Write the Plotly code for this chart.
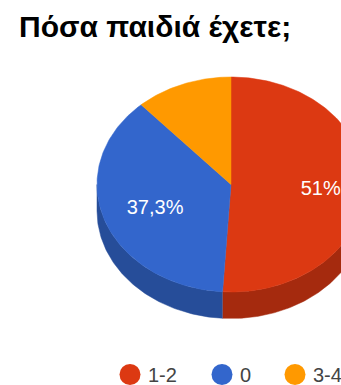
import numpy as np
import plotly.graph_objects as go

# Survey answers
title = "Πόσα παιδιά έχετε;"
categories = ["1-2", "0", "3-4"]
shares = [51.0, 37.3, 11.7]
share_labels = ["51%", "37,3%", ""]

# Slice and edge colours
top_colors = ["#DC3912", "#3366CC", "#FF9900"]
side_colors = ["#A52A0E", "#264D99", "#B36B00"]

# Tilted-pie geometry, in page pixels
CX, CY, RX, RY, DEPTH = 231.0, 184.5, 134.0, 107.5, 26.5
LABEL_RADIUS = [0.67, 0.6, 0.6]
LABEL_SHIFT = [3, 3, 0]
LEGEND_Y = 374.5
LEGEND_MARKS = [130, 222, 295]
LEGEND_TEXTS = [147, 239, 312]
FONT = "Liberation Sans, Arial, sans-serif"


def rim(a0, a1, drop=0.0):
    """Points along the ellipse between two clockwise-from-top fractions."""
    t = np.linspace(a0, a1, max(int(abs(a1 - a0) * 400), 2)) * 2 * np.pi
    return CX + RX * np.sin(t), CY - RY * np.cos(t) + drop


fig = go.Figure()
total = sum(shares)
edges = np.cumsum([0.0] + shares) / total

# Extruded wall: only the part of the rim facing the viewer (0.25 to 0.75 of a turn)
for i in range(len(shares)):
    a0, a1 = max(edges[i], 0.25), min(edges[i + 1], 0.75)
    if a1 <= a0:
        continue
    xs, ys = rim(a0, a1)
    xd, yd = rim(a1, a0, DEPTH)
    fig.add_trace(go.Scatter(
        x=np.r_[xs, xd], y=np.r_[ys, yd], mode="lines", fill="toself",
        fillcolor=side_colors[i], line=dict(color=side_colors[i], width=0.5),
        hoverinfo="skip", showlegend=False))

# Top face
for i in range(len(shares)):
    xs, ys = rim(edges[i], edges[i + 1])
    fig.add_trace(go.Scatter(
        x=np.r_[CX, xs, CX], y=np.r_[CY, ys, CY], mode="lines", fill="toself",
        fillcolor=top_colors[i], line=dict(color=top_colors[i], width=0.5),
        name=categories[i], hoverinfo="name", showlegend=False))

# Percentage labels at each slice's middle angle
for i, text in enumerate(share_labels):
    if not text:
        continue
    mid = (edges[i] + edges[i + 1]) * np.pi
    fig.add_trace(go.Scatter(
        x=[CX + RX * LABEL_RADIUS[i] * np.sin(mid)],
        y=[CY - RY * LABEL_RADIUS[i] * np.cos(mid) + LABEL_SHIFT[i]],
        mode="text", text=[text], textposition="middle center",
        textfont=dict(family=FONT, size=20, color="#FFFFFF"),
        hoverinfo="skip", showlegend=False))

# Key below the pie
for i, cat in enumerate(categories):
    fig.add_trace(go.Scatter(
        x=[LEGEND_MARKS[i]], y=[LEGEND_Y], mode="markers",
        marker=dict(size=21, color=top_colors[i], line=dict(width=0)),
        hoverinfo="skip", showlegend=False))
    fig.add_annotation(
        x=LEGEND_TEXTS[i], y=LEGEND_Y, text=cat, showarrow=False,
        xanchor="left", yanchor="middle", xshift=-1,
        font=dict(family=FONT, size=20, color="#444444"))

fig.add_annotation(
    x=18, y=26, text=f"<b>{title}</b>", showarrow=False, xanchor="left", yanchor="middle",
    xshift=-1, font=dict(family=FONT, size=30, color="#000000"))

fig.update_layout(
    width=341, height=385, margin=dict(l=0, r=0, t=0, b=0),
    paper_bgcolor="#FFFFFF", plot_bgcolor="#FFFFFF",
    xaxis=dict(range=[0, 341], visible=False, fixedrange=True),
    yaxis=dict(range=[385, 0], visible=False, fixedrange=True),
)
fig.write_html("out.html", config=dict(displayModeBar=False))
